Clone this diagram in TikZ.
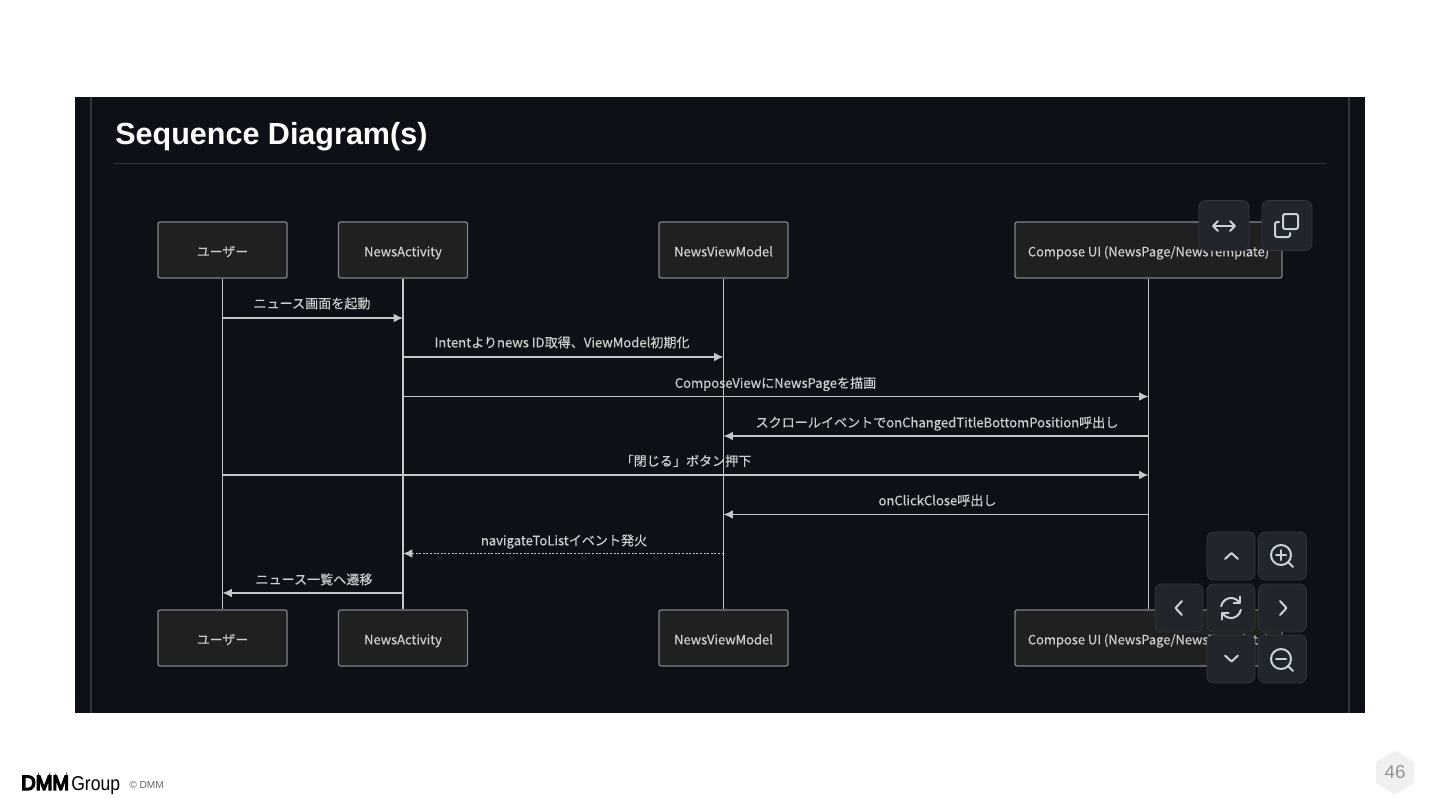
\documentclass[tikz,border=0pt]{standalone}
\usepackage{fontspec}
\usepackage{tikz}
\usetikzlibrary{arrows.meta,shapes.geometric}
\setmainfont[FakeBold=0.3]{Noto Sans CJK JP}
\newfontfamily\titlefont{Liberation Sans}
\newfontfamily\logofont[FakeBold=7,FakeStretch=0.97]{Liberation Sans}
\newfontfamily\groupfont[FakeStretch=0.88]{Liberation Sans}
\definecolor{panelbg}{HTML}{0D1117}
\definecolor{panelrule}{HTML}{30363D}
\definecolor{boxfill}{HTML}{1F2020}
\definecolor{boxline}{HTML}{81868A}
\definecolor{flowline}{HTML}{C4C6C8}
\definecolor{flowtext}{HTML}{CDCECF}
\definecolor{btnfill}{HTML}{21262D}
\definecolor{btnicon}{HTML}{C9D1D9}
\tikzset{
	actorbox/.style={draw=boxline,fill=boxfill,line width=0.9pt,rounded corners=1.5pt,minimum height=42pt,inner sep=0pt,text=flowtext,text height=9.6pt,text depth=0pt,font=\fontsize{9.7}{11}\selectfont},
	lifeline/.style={draw=flowline,line width=1pt},
	msg/.style={draw=flowline,line width=1pt,-{Latex[length=7pt,width=6.5pt]}},
	msglabel/.style={text=flowtext,inner sep=0pt,text height=8.5pt,text depth=0.5pt,font=\fontsize{9.8}{11}\selectfont},
	ctrlbtn/.style={draw=panelrule,fill=btnfill,line width=0.6pt,rounded corners=5pt,minimum width=36pt,minimum height=36pt,inner sep=0pt},
	icon/.style={draw=btnicon,line width=1.5pt,line cap=round,line join=round},
}
\begin{document}
\begin{tikzpicture}[x=0.75pt,y=-0.75pt]
	\useasboundingbox[fill=white] (0,0) rectangle (1440,810);
	% dark panel
	\fill[panelbg] (75,97) rectangle (1365,713);
	\draw[panelrule,line width=1pt] (91,97) -- (91,713);
	\draw[panelrule,line width=1pt] (1349,97) -- (1349,713);
	\draw[panelrule,line width=0.75pt] (115,163.5) -- (1325,163.5);
	\node[anchor=west,inner sep=0pt,text=white,font=\titlefont\bfseries\fontsize{22.9}{26}\selectfont] (title) at (115,137) {Sequence Diagram(s)};
	% actors
	\node[actorbox,minimum width=96.75pt] (user) at (222.5,250) {ユーザー};
	\node[actorbox,minimum width=96.75pt] (activity) at (403,250) {NewsActivity};
	\node[actorbox,minimum width=96.75pt] (viewModel) at (723.5,250) {NewsViewModel};
	\node[actorbox,minimum width=200.25pt] (compose) at (1148.5,250) {Compose UI (NewsPage/NewsTemplate)};
	\node[actorbox,minimum width=96.75pt] (userEnd) at (222.5,638) {ユーザー};
	\node[actorbox,minimum width=96.75pt] (activityEnd) at (403,638) {NewsActivity};
	\node[actorbox,minimum width=96.75pt] (viewModelEnd) at (723.5,638) {NewsViewModel};
	\node[actorbox,minimum width=200.25pt] (composeEnd) at (1148.5,638) {Compose UI (NewsPage/NewsTemplate)};
	\draw[lifeline] (user) -- (userEnd);
	\draw[lifeline] (activity) -- (activityEnd);
	\draw[lifeline] (viewModel) -- (viewModelEnd);
	\draw[lifeline] (compose) -- (composeEnd);
	% messages
	\coordinate (rowA) at (0,318);
	\coordinate (rowB) at (0,357);
	\coordinate (rowC) at (0,396.5);
	\coordinate (rowD) at (0,436);
	\coordinate (rowE) at (0,475);
	\coordinate (rowF) at (0,514.5);
	\coordinate (rowG) at (0,553.5);
	\coordinate (rowH) at (0,593);
	\draw[msg] (user |- rowA) -- (activity |- rowA);
	\draw[msg] (activity |- rowB) -- (viewModel |- rowB);
	\draw[msg] (activity |- rowC) -- (compose |- rowC);
	\draw[msg] (compose |- rowD) -- (viewModel |- rowD);
	\draw[msg] (user |- rowE) -- (compose |- rowE);
	\draw[msg] (compose |- rowF) -- (viewModel |- rowF);
	\draw[msg,dash pattern=on 1.5pt off 1.2pt] (viewModel |- rowG) -- (activity |- rowG);
	\draw[msg] (activity |- rowH) -- (user |- rowH);
	\node[msglabel] (labelA) at (312,303) {ニュース画面を起動};
	\node[msglabel] (labelB) at (562,342) {Intentよりnews ID取得、ViewModel初期化};
	\node[msglabel] (labelC) at (775.5,382.5) {ComposeViewにNewsPageを描画};
	\node[msglabel] (labelD) at (937,422) {スクロールイベントでonChangedTitleBottomPosition呼出し};
	\node[msglabel] (labelE) at (686,460.5) {「閉じる」ボタン押下};
	\node[msglabel] (labelF) at (937.5,500) {onClickClose呼出し};
	\node[msglabel] (labelG) at (564,540) {navigateToListイベント発火};
	\node[msglabel] (labelH) at (314,579) {ニュース一覧へ遷移};
	% buttons
	\node[ctrlbtn,minimum width=37.5pt,minimum height=37.5pt] (btnWide) at (1224,225.5) {};
	\node[ctrlbtn,minimum width=37.5pt,minimum height=37.5pt] (btnCopy) at (1287,225.5) {};
	\foreach \btn/\bx/\by in {btnUp/1231/556,btnIn/1282.5/556,btnLeft/1179/608,btnReset/1231/608,btnRight/1282.5/608,btnDown/1231/659,btnOut/1282.5/659}
		\node[ctrlbtn] (\btn) at (\bx,\by) {};
	\draw[icon] (1214,226) -- (1234,226);
	\draw[icon] (1218,221) -- (1213,226) -- (1218,231);
	\draw[icon] (1230,221) -- (1235,226) -- (1230,231);
	\draw[icon,rounded corners=1.5pt] (1283,214) rectangle (1298,229);
	\draw[icon,rounded corners=1.5pt] (1279,222) -- (1275,222) -- (1275,237) -- (1290,237) -- (1290,233);
	\draw[icon] (1225,559) -- (1231.5,553) -- (1238,559);
	\draw[icon] (1225,655.5) -- (1231.5,661.5) -- (1238,655.5);
	\draw[icon] (1182,601) -- (1175.5,608) -- (1182,615);
	\draw[icon] (1280,601) -- (1286.5,608) -- (1280,615);
	\draw[icon] (1281,555) circle (10);
	\draw[icon] (1276,555) -- (1286,555);
	\draw[icon] (1281,550) -- (1281,560);
	\draw[icon] (1288.5,562.5) -- (1293,567);
	\draw[icon] (1281,659) circle (10);
	\draw[icon] (1276,659) -- (1286,659);
	\draw[icon] (1288.5,666.5) -- (1293,671);
	\draw[icon] (1221.15,606.26) arc[start angle=190,end angle=320,radius=10];
	\draw[icon] (1240.85,609.74) arc[start angle=10,end angle=140,radius=10];
	\draw[icon] (1240,596.5) -- (1240,603) -- (1233.5,603);
	\draw[icon] (1222,619.5) -- (1222,613) -- (1228.5,613);
	% footer
	\node[anchor=base west,inner sep=0pt,text=black,font=\logofont\fontsize{15.5}{18}\selectfont] (logoDmm) at (21,790) {DMM};
	\node[anchor=base west,inner sep=0pt,text=black,font=\groupfont\fontsize{15}{18}\selectfont] (logoGroup) at (71,790) {Group};
	\node[anchor=west,inner sep=0pt,text=black!60,font=\titlefont\fontsize{7.6}{9}\selectfont] (copyright) at (129,784.5) {© DMM};
	\node[regular polygon,regular polygon sides=6,shape border rotate=90,fill=black!6,minimum size=32.5pt,inner sep=0pt,text=black!42,font=\titlefont\fontsize{14}{16}\selectfont] (pageNo) at (1395,772.5) {46};
\end{tikzpicture}
\end{document}
